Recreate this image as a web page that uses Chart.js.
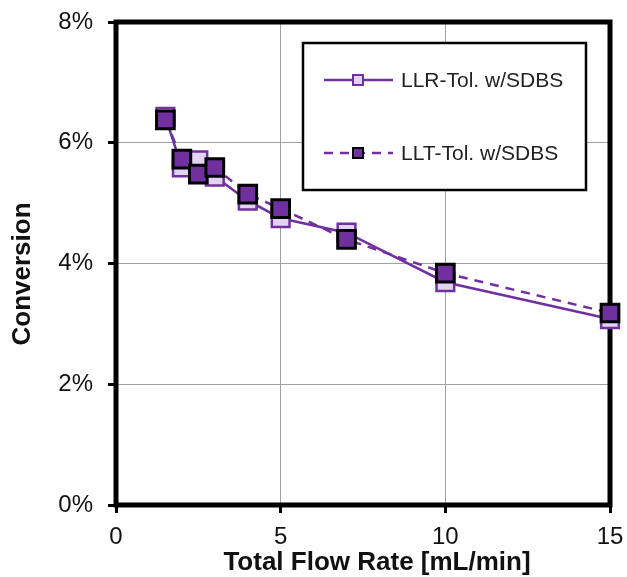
<!DOCTYPE html>
<html>
<head>
<meta charset="utf-8">
<script src="https://cdn.jsdelivr.net/npm/chart.js@4.4.1/dist/chart.umd.min.js"></script>
<style>
  html, body { margin: 0; padding: 0; background: #fff; }
  #wrap { width: 627px; height: 577px; }
</style>
</head>
<body>
<div id="wrap"><canvas id="chart" width="627" height="577"></canvas></div>
<script>
// flow rate [mL/min]
let flowLLR = [1.5, 2, 2.5, 3, 4, 5, 7, 10, 15];
let flowLLT = [1.5, 2, 2.5, 3, 4, 5, 7, 10, 15];
// conversion [%]
let convLLR = [6.43, 5.59, 5.71, 5.44, 5.04, 4.75, 4.51, 3.69, 3.08];
let convLLT = [6.38, 5.73, 5.48, 5.59, 5.15, 4.91, 4.40, 3.84, 3.18];
let seriesNames = ["LLR-Tol. w/SDBS", "LLT-Tol. w/SDBS"];
let xTitle = "Total Flow Rate [mL/min]";
let yTitle = "Conversion";

let purple = "#7030a0";
let lilac = "#e2d3f2";
let fontFam = "'Liberation Sans', Arial, sans-serif";

function toPoints(xs, ys){
  return xs.map((x,i)=>({x:x, y:ys[i]}));
}

// fixed axis box sizes, no extra room for overhanging labels
function fixBox(size){
  return function(s){
    if(s.isHorizontal()) s.height = size; else s.width = size;
    s.paddingTop = 0; s.paddingBottom = 0; s.paddingLeft = 0; s.paddingRight = 0;
  };
}

// frame around the plot area (drawn under the markers) + axis titles
let framePlugin = {
  id: "frame",
  beforeDatasetsDraw(chart){
    let a = chart.chartArea;
    let ctx = chart.ctx;
    ctx.save();
    ctx.strokeStyle = "#000";
    ctx.lineWidth = 5;
    ctx.strokeRect(a.left, a.top, a.right - a.left, a.bottom - a.top);

    ctx.fillStyle = "#111";
    ctx.font = "bold 26px " + fontFam;
    ctx.textAlign = "center";
    ctx.textBaseline = "middle";
    ctx.fillText(xTitle, 377, 563);
    ctx.translate(23, 274);
    ctx.rotate(-Math.PI/2);
    ctx.fillText(yTitle, 0, 0);
    ctx.restore();
  }
};

// boxed legend inside the plot
let legendBox = {
  id: "legendBox",
  afterDatasetsDraw(chart){
    let ctx = chart.ctx;
    ctx.save();
    ctx.fillStyle = "#fff";
    ctx.fillRect(303, 43, 283, 147);
    ctx.strokeStyle = "#000";
    ctx.lineWidth = 2.5;
    ctx.strokeRect(303, 43, 283, 147);
    let rows = [80, 153];
    chart.data.datasets.forEach((ds, i)=>{
      let y = rows[i];
      ctx.strokeStyle = purple;
      ctx.lineWidth = 2.5;
      ctx.setLineDash(ds.borderDash || []);
      ctx.beginPath();
      ctx.moveTo(324, y);
      ctx.lineTo(393, y);
      ctx.stroke();
      ctx.setLineDash([]);
      ctx.fillStyle = ds.pointBackgroundColor;
      ctx.strokeStyle = ds.pointBorderColor;
      ctx.lineWidth = 2;
      ctx.fillRect(353, y - 5, 10, 10);
      ctx.strokeRect(353, y - 5, 10, 10);
      ctx.fillStyle = "#222";
      ctx.font = "21px " + fontFam;
      ctx.textBaseline = "middle";
      ctx.fillText(ds.label, 401, y + 1);
    });
    ctx.restore();
  }
};

new Chart(document.getElementById("chart"), {
  type: "line",
  data: {
    datasets: [
      {
        label: seriesNames[0],
        data: toPoints(flowLLR, convLLR),
        borderColor: purple,
        borderWidth: 2.5,
        pointStyle: "rect",
        pointRadius: 12.5,
        pointHoverRadius: 12.5,
        pointBackgroundColor: lilac,
        pointBorderColor: purple,
        pointBorderWidth: 2.5,
        clip: false,
        order: 1
      },
      {
        label: seriesNames[1],
        data: toPoints(flowLLT, convLLT),
        borderColor: purple,
        borderWidth: 2.5,
        borderDash: [9, 7],
        pointStyle: "rect",
        pointRadius: 12.5,
        pointHoverRadius: 12.5,
        pointBackgroundColor: purple,
        pointBorderColor: "#000",
        pointBorderWidth: 3,
        clip: false,
        order: 0
      }
    ]
  },
  options: {
    responsive: false,
    animation: false,
    layout: { autoPadding: false, padding: { left: 0, top: 22, right: 17, bottom: 0 } },
    plugins: { legend: { display: false }, tooltip: { enabled: false } },
    scales: {
      x: {
        type: "linear",
        min: 0, max: 15,
        afterFit: fixBox(72),
        ticks: { stepSize: 5, color: "#111", padding: 10, font: { size: 24, family: fontFam } },
        grid: { color: "#a0a0a0", lineWidth: 1, tickLength: 8, tickColor: "#000", tickWidth: 3 },
        border: { display: false }
      },
      y: {
        min: 0, max: 8,
        afterFit: fixBox(116),
        ticks: { stepSize: 2, color: "#111", padding: 15, callback: v => v + "%",
          font: { size: 24, family: fontFam } },
        grid: { color: "#a0a0a0", lineWidth: 1, tickLength: 8, tickColor: "#000", tickWidth: 3 },
        border: { display: false }
      }
    }
  },
  plugins: [framePlugin, legendBox]
});
</script>
</body>
</html>
